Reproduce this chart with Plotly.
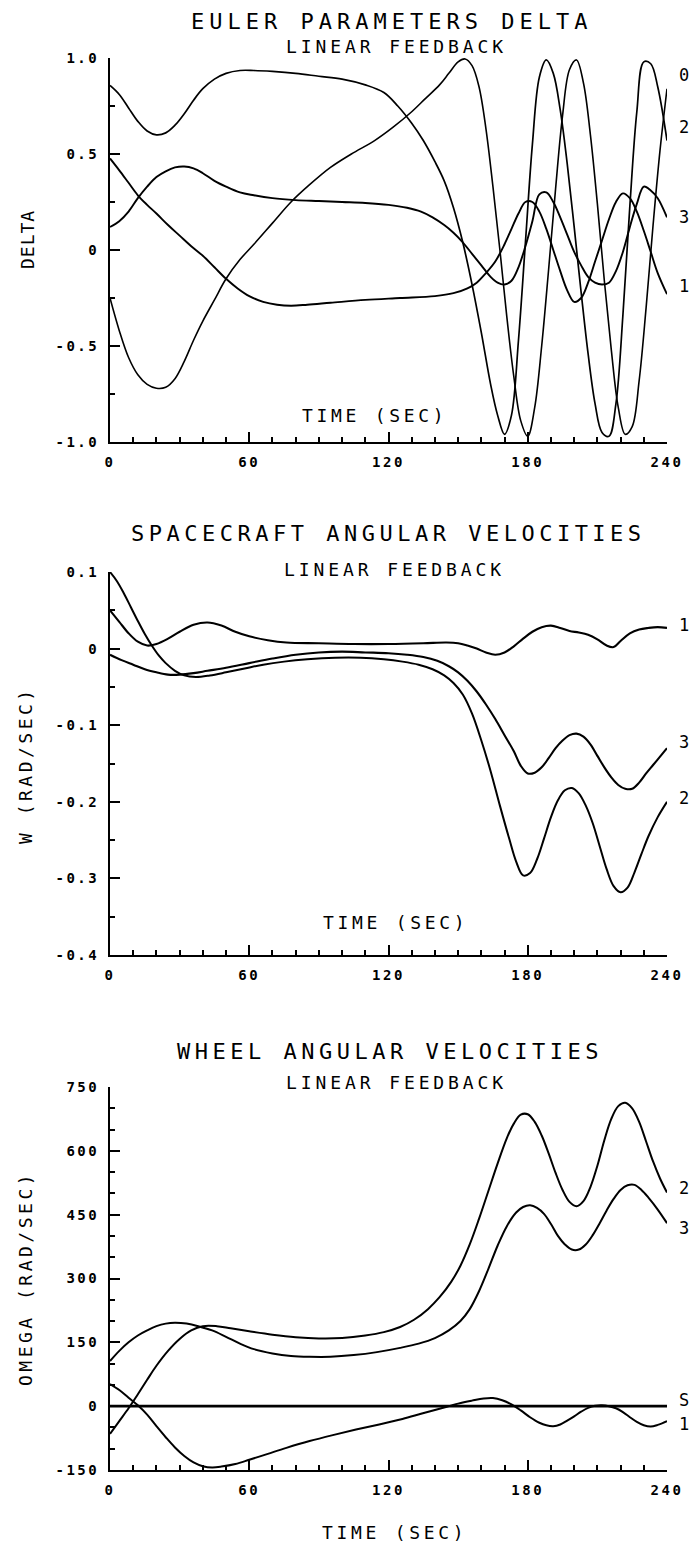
import plotly.graph_objects as go

W, H = 691, 1550
FONT = "DejaVu Sans Mono"

# ---------------- Panel 1: Euler parameters delta ----------------
d0_t = [0, 4, 8, 12, 16, 20, 24, 28, 32, 36, 40, 45, 50, 56, 62, 70, 78, 86, 95, 104, 114, 122, 130, 136, 142, 146,
        150, 153, 156, 159, 162, 165, 168, 171, 174, 177, 180, 183, 186, 189, 192, 195, 198, 201, 204, 207, 210, 213,
        216, 219, 222, 225, 228, 231, 234, 237, 240]
d0_v = [-0.25, -0.42, -0.56, -0.65, -0.70, -0.72, -0.715, -0.67, -0.58, -0.47, -0.37, -0.26, -0.15, -0.05, 0.03, 0.14,
        0.25, 0.34, 0.43, 0.50, 0.57, 0.64, 0.72, 0.79, 0.86, 0.92, 0.98, 0.995, 0.96, 0.85, 0.63, 0.33, 0.0, -0.35,
        -0.66, -0.89, -0.97, -0.82, -0.50, -0.10, 0.32, 0.70, 0.94, 0.99, 0.87, 0.60, 0.24, -0.16, -0.52, -0.82, -0.96,
        -0.92, -0.68, -0.30, 0.13, 0.52, 0.84]

d2_t = [0, 4, 8, 12, 16, 20, 24, 28, 32, 36, 40, 45, 50, 56, 62, 70, 80, 90, 100, 110, 118, 124, 130, 135, 140, 144,
        148, 152, 156, 160, 164, 167, 170, 173, 176, 179, 182, 185, 188, 191, 194, 197, 200, 203, 206, 209, 212, 215,
        218, 221, 224, 227, 230, 233, 236, 240]
d2_v = [0.857, 0.81, 0.74, 0.67, 0.62, 0.60, 0.61, 0.65, 0.71, 0.78, 0.84, 0.89, 0.92, 0.935, 0.935, 0.93, 0.92, 0.905,
        0.89, 0.86, 0.82, 0.75, 0.66, 0.57, 0.46, 0.36, 0.22, 0.04, -0.18, -0.43, -0.70, -0.86, -0.96, -0.86, -0.47,
        0.04, 0.55, 0.90, 0.99, 0.92, 0.73, 0.45, 0.12, -0.22, -0.54, -0.80, -0.95, -0.97, -0.80, -0.34, 0.23, 0.72,
        0.98, 0.97, 0.85, 0.57]

d3_t = [0, 4, 8, 12, 16, 20, 24, 28, 32, 36, 40, 45, 50, 56, 62, 70, 80, 90, 100, 110, 120, 128, 134, 139, 144, 148,
        152, 156, 160, 164, 167, 170, 173, 176, 179, 182, 185, 188, 191, 194, 197, 200, 203, 206, 209, 212, 215, 218,
        221, 224, 227, 230, 233, 236, 240]
d3_v = [0.12, 0.15, 0.20, 0.27, 0.33, 0.38, 0.41, 0.43, 0.435, 0.425, 0.40, 0.36, 0.33, 0.30, 0.285, 0.27, 0.26, 0.255,
        0.25, 0.245, 0.235, 0.22, 0.20, 0.17, 0.13, 0.09, 0.04, -0.02, -0.08, -0.14, -0.17, -0.18, -0.16, -0.09, 0.02,
        0.15, 0.29, 0.30, 0.25, 0.17, 0.08, -0.01, -0.08, -0.14, -0.17, -0.18, -0.17, -0.11, -0.01, 0.12, 0.24, 0.33,
        0.31, 0.27, 0.17]

d1_t = [0, 4, 8, 12, 16, 20, 25, 30, 35, 40, 45, 50, 55, 60, 66, 72, 78, 85, 95, 110, 125, 140, 148, 154, 158, 162,
        166, 170, 173, 176, 179, 182, 185, 188, 191, 194, 197, 200, 203, 206, 209, 212, 215, 218, 221, 224, 227, 230,
        233, 236, 240]
d1_v = [0.477, 0.415, 0.35, 0.285, 0.235, 0.19, 0.13, 0.075, 0.02, -0.03, -0.09, -0.15, -0.20, -0.24, -0.27, -0.285,
        -0.29, -0.285, -0.275, -0.26, -0.25, -0.24, -0.225, -0.20, -0.17, -0.12, -0.06, 0.03, 0.11, 0.19, 0.25, 0.25,
        0.20, 0.11, 0.0, -0.11, -0.21, -0.27, -0.25, -0.17, -0.06, 0.05, 0.16, 0.25, 0.295, 0.27, 0.20, 0.10, -0.01,
        -0.12, -0.23]

# ---------------- Panel 2: spacecraft angular velocities ----------------
w1_t = [0, 4, 8, 12, 16, 20, 25, 30, 36, 42, 48, 54, 60, 68, 76, 90, 105, 120, 135, 145, 150, 154, 158, 162, 166, 170,
        174, 178, 182, 186, 190, 194, 198, 202, 206, 210, 214, 217, 220, 224, 228, 232, 236, 240]
w1_v = [0.05, 0.035, 0.02, 0.009, 0.004, 0.006, 0.013, 0.022, 0.031, 0.034, 0.030, 0.022, 0.016, 0.011, 0.008, 0.007,
        0.006, 0.006, 0.007, 0.008, 0.007, 0.004, 0.0, -0.005, -0.008, -0.005, 0.003, 0.013, 0.022, 0.028, 0.03, 0.027,
        0.023, 0.021, 0.018, 0.012, 0.004, 0.002, 0.01, 0.02, 0.025, 0.027, 0.028, 0.027]

w2_t = [0, 3, 6, 9, 12, 15, 18, 21, 24, 28, 32, 37, 43, 50, 58, 66, 75, 85, 97, 108, 118, 126, 133, 139, 144, 148,
        152, 156, 160, 164, 168, 172, 175, 178, 181, 184, 187, 190, 193, 196, 199, 202, 205, 208, 211, 214, 217, 220,
        223, 226, 229, 232, 236, 240]
w2_v = [0.1, 0.088, 0.072, 0.054, 0.036, 0.019, 0.004, -0.009, -0.019, -0.029, -0.035, -0.037, -0.035, -0.031, -0.026,
        -0.021, -0.017, -0.014, -0.012, -0.012, -0.014, -0.017, -0.021, -0.027, -0.035, -0.045, -0.06, -0.085, -0.12,
        -0.16, -0.205, -0.248, -0.278, -0.296, -0.293, -0.275, -0.248, -0.22, -0.198, -0.185, -0.182, -0.189, -0.205,
        -0.228, -0.258, -0.288, -0.31, -0.318, -0.312, -0.292, -0.268, -0.245, -0.22, -0.2]

w3_t = [0, 5, 10, 15, 20, 25, 30, 36, 42, 50, 60, 70, 80, 90, 100, 110, 120, 128, 135, 141, 146, 150, 154, 158, 162,
        166, 170, 174, 177, 180, 183, 186, 189, 192, 195, 198, 201, 204, 207, 210, 213, 216, 219, 222, 225, 228, 231,
        234, 237, 240]
w3_v = [-0.008, -0.015, -0.021, -0.027, -0.031, -0.034, -0.034, -0.032, -0.029, -0.025, -0.019, -0.013, -0.008,
        -0.005, -0.004, -0.005, -0.006, -0.008, -0.011, -0.016, -0.023, -0.031, -0.042, -0.056, -0.073, -0.092,
        -0.113, -0.134, -0.153, -0.163, -0.162, -0.155, -0.143, -0.13, -0.12, -0.113, -0.111, -0.115, -0.125, -0.14,
        -0.155, -0.168, -0.178, -0.183, -0.183, -0.175, -0.163, -0.152, -0.141, -0.13]

# ---------------- Panel 3: wheel angular velocities ----------------
o2_t = [0, 4, 8, 12, 16, 20, 25, 30, 35, 40, 46, 52, 60, 70, 80, 90, 100, 110, 118, 125, 131, 137, 142, 147, 151, 155,
        159, 163, 167, 171, 174, 177, 180, 183, 186, 189, 192, 195, 198, 201, 204, 207, 210, 213, 216, 219, 222, 225,
        228, 231, 234, 237, 240]
o2_v = [-65, -35, -5, 28, 62, 95, 130, 158, 178, 188, 188, 183, 176, 168, 162, 159, 160, 166, 174, 186, 203, 228, 256,
        292, 330, 380, 440, 505, 570, 630, 664, 685, 686, 668, 636, 594, 548, 508, 480, 470, 482, 515, 565, 625, 675,
        705, 713, 700, 668, 622, 575, 535, 502]

o3_t = [0, 4, 8, 12, 16, 20, 24, 28, 33, 38, 44, 50, 56, 62, 70, 78, 86, 95, 105, 115, 125, 133, 140, 146, 151, 155,
        159, 163, 167, 171, 175, 178, 181, 184, 187, 190, 193, 196, 199, 202, 205, 208, 211, 214, 217, 220, 223, 226,
        229, 232, 236, 240]
o3_v = [106, 130, 150, 166, 178, 188, 194, 196, 194, 188, 178, 163, 147, 134, 124, 118, 116, 116, 120, 127, 137, 147,
        160, 178, 200, 228, 270, 322, 377, 423, 455, 468, 472, 466, 452, 428, 400, 380, 368, 368, 380, 402, 430, 460,
        487, 508, 519, 520, 508, 490, 462, 430]

o1_t = [0, 4, 8, 12, 16, 20, 24, 28, 32, 36, 40, 44, 48, 54, 60, 68, 76, 86, 96, 106, 116, 126, 134, 142, 150, 156,
        161, 165, 169, 173, 177, 181, 185, 188, 191, 194, 197, 200, 203, 206, 209, 212, 215, 218, 221, 224, 227, 230,
        233, 236, 240]
o1_v = [52, 38, 20, 2, -20, -47, -73, -97, -117, -132, -141, -144, -142, -136, -126, -112, -98, -82, -68, -55, -43,
        -30, -18, -6, 6, 13, 18, 19, 14, 4, -10, -26, -39, -45, -47, -43, -34, -24, -13, -4, 1, 2, 0, -5, -14, -26,
        -37, -45, -48, -44, -35]

oS_t = [0, 240]
oS_v = [0, 0]

# ---------------- text ----------------
time_ticks = [0, 60, 120, 180, 240]
time_labels = ["0", "60", "120", "180", "240"]
delta_ticks = [-1.0, -0.5, 0.0, 0.5, 1.0]
delta_labels = ["-1.0", "-0.5", "0", "0.5", "1.0"]
w_ticks = [-0.4, -0.3, -0.2, -0.1, 0.0, 0.1]
w_labels = ["-0.4", "-0.3", "-0.2", "-0.1", "0", "0.1"]
om_ticks = [-150, 0, 150, 300, 450, 600, 750]
om_labels = ["-150", "0", "150", "300", "450", "600", "750"]

titles = ["EULER PARAMETERS DELTA", "SPACECRAFT ANGULAR VELOCITIES", "WHEEL ANGULAR VELOCITIES"]
subtitle = "LINEAR FEEDBACK"
ytitles = ["DELTA", "W (RAD/SEC)", "OMEGA (RAD/SEC)"]
xtitle = "TIME (SEC)"
labels1 = [("0", 0.91), ("2", 0.64), ("3", 0.17), ("1", -0.19)]
labels2 = [("1", 0.031), ("3", -0.122), ("2", -0.195)]
labels3 = [("2", 513), ("3", 419), ("S", 15), ("1", -43)]


def sp(s, ls):
    return '<span style="letter-spacing:%spx">%s</span>' % (ls, s)


fig = go.Figure()


def add(xs, ys, xa, ya, width=1.9):
    fig.add_trace(go.Scatter(x=xs, y=ys, mode="lines",
                             line=dict(color="black", width=width, shape="spline", smoothing=1.0),
                             xaxis=xa, yaxis=ya, showlegend=False, hoverinfo="skip"))


add(d0_t, d0_v, "x", "y", 1.6)
add(d2_t, d2_v, "x", "y", 1.7)
add(d3_t, d3_v, "x", "y")
add(d1_t, d1_v, "x", "y")
add(w1_t, w1_v, "x2", "y2", 2.1)
add(w2_t, w2_v, "x2", "y2", 2.0)
add(w3_t, w3_v, "x2", "y2", 2.1)
add(o2_t, o2_v, "x3", "y3", 2.0)
add(o3_t, o3_v, "x3", "y3", 2.0)
add(o1_t, o1_v, "x3", "y3", 2.0)
add(oS_t, oS_v, "x3", "y3", 2.6)


def px_x(x):
    return x / W


def px_y(y):
    return 1 - y / H


X0, X1 = 110, 667
panels = [(58, 442), (572, 955), (1087, 1470)]

tickfont = dict(family=FONT, size=14, color="black", weight="bold")
common = dict(showline=True, linecolor="black", linewidth=2, ticks="inside", ticklen=10, tickwidth=2,
              tickcolor="black", showgrid=False, zeroline=False, mirror=False, tickfont=tickfont,
              automargin=False, fixedrange=True)

layout = dict(width=W, height=H, margin=dict(l=0, r=0, t=0, b=0), paper_bgcolor="white",
              plot_bgcolor="white", showlegend=False)

yspecs = [
    (delta_ticks, delta_labels, [-1, 1], 0.25),
    (w_ticks, w_labels, [-0.4, 0.1], 0.05),
    (om_ticks, om_labels, [-150, 750], 50),
]

for i, ((ytop, ybot), (yt, yl, yr, ymin)) in enumerate(zip(panels, yspecs)):
    sfx = "" if i == 0 else str(i + 1)
    layout["xaxis" + sfx] = dict(common, domain=[px_x(X0), px_x(X1)], range=[0, 240],
                                 anchor="y" + sfx, tickvals=time_ticks,
                                 ticktext=[sp(t, 2.5) for t in time_labels],
                                 ticklabelstandoff=6,
                                 minor=dict(dtick=10, tick0=0, ticks="inside", ticklen=5, tickwidth=1.5,
                                            tickcolor="black", showgrid=False))
    layout["yaxis" + sfx] = dict(common, domain=[px_y(ybot), px_y(ytop)], range=yr,
                                 anchor="x" + sfx, tickvals=yt, ticktext=[sp(t, 2.5) for t in yl],
                                 ticklabelstandoff=6,
                                 minor=dict(dtick=ymin, tick0=0, ticks="inside", ticklen=5, tickwidth=1.5,
                                            tickcolor="black", showgrid=False))

ann = []
tpos = [(392, 22, 396, 47, 5.0), (388, 533, 394, 570, 4.5), (390, 1051, 396, 1082, 4.5)]
for (tx, ty, sx, sy, ls), t in zip(tpos, titles):
    ann.append(dict(text=sp(t, ls), x=px_x(tx), y=px_y(ty), xref="paper", yref="paper", showarrow=False,
                    xanchor="center", yanchor="middle", font=dict(family=FONT, size=22, color="black")))
    ann.append(dict(text=sp(subtitle, 3.9), x=px_x(sx), y=px_y(sy), xref="paper", yref="paper", showarrow=False,
                    xanchor="center", yanchor="middle", font=dict(family=FONT, size=18, color="black")))

for (ax, ay, ls), t in zip([(28, 240, 1.0), (25, 765, 3.5), (25, 1279, 3.5)], ytitles):
    ann.append(dict(text=sp(t, ls), x=px_x(ax), y=px_y(ay), xref="paper", yref="paper", showarrow=False,
                    textangle=-90, xanchor="center", yanchor="middle",
                    font=dict(family=FONT, size=18, color="black")))

ann.append(dict(text=sp(xtitle, 3.7), x=114, y=-0.86, xref="x", yref="y", showarrow=False,
                xanchor="center", yanchor="middle", font=dict(family=FONT, size=18, color="black")))
ann.append(dict(text=sp(xtitle, 3.7), x=123, y=-0.357, xref="x2", yref="y2", showarrow=False,
                xanchor="center", yanchor="middle", font=dict(family=FONT, size=18, color="black")))
ann.append(dict(text=sp(xtitle, 3.7), x=px_x(394), y=px_y(1532), xref="paper", yref="paper", showarrow=False,
                xanchor="center", yanchor="middle", font=dict(family=FONT, size=18, color="black")))

for labs, yref in [(labels1, "y"), (labels2, "y2"), (labels3, "y3")]:
    for s, v in labs:
        ann.append(dict(text=s, x=px_x(684), y=v, xref="paper", yref=yref, showarrow=False,
                        xanchor="center", yanchor="middle", font=dict(family=FONT, size=17, color="black")))

layout["annotations"] = ann
fig.update_layout(**layout)
fig.write_html("out.html")
